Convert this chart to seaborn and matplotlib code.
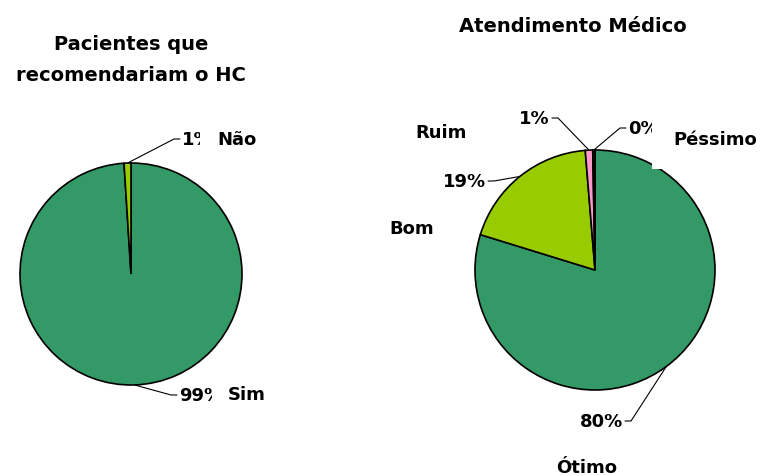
import matplotlib
matplotlib.use("Agg")
import matplotlib.pyplot as plt
import seaborn as sns
import numpy as np

# dados dos dois graficos
rec_labels = ["Sim", "Não"]
rec_values = [99, 1]
rec_colors = ["#339966", "#99CC00"]

atd_labels = ["Ótimo", "Bom", "Ruim", "Péssimo"]
atd_values = [80, 19, 1, 0.3]
atd_colors = ["#339966", "#99CC00", "#FF99CC", "#222222"]

sns.set_theme(style="white")
plt.rcParams["font.family"] = ["DejaVu Sans"]
plt.rcParams["text.color"] = "black"

W, H = 763, 477
fig = plt.figure(figsize=(W / 100, H / 100), dpi=100)
ax = fig.add_axes([0, 0, 1, 1])


def P(x, y):
    # pixel (origem em cima) -> coordenadas do eixo
    return x, H - y


def draw_pie(values, colors, center, radius, pct_pos, name_pos, names, title, title_pos):
    total = float(sum(values))
    wedges, _ = ax.pie(values, colors=colors, startangle=90, counterclock=False,
                       center=P(*center), radius=radius,
                       wedgeprops=dict(edgecolor="black", linewidth=1.2))
    cx, cy = P(*center)
    for w, v, (tx, ty, ha), (nx, ny, pad), name in zip(wedges, values, pct_pos, name_pos, names):
        mid = np.deg2rad((w.theta1 + w.theta2) / 2)
        wx, wy = cx + radius * np.cos(mid), cy + radius * np.sin(mid)
        sgn = 1 if ha == "right" else -1
        X, Y = P(tx, ty)
        ax.plot([wx, X + sgn * 8, X + sgn * 2], [wy, Y, Y], color="black", lw=0.8, zorder=3)
        ax.text(X, Y, "%d%%" % round(100 * v / total), ha=ha, va="center",
                fontsize=13, fontweight="bold", zorder=4)
        ax.text(*P(nx, ny), name, ha="left", va="center", fontsize=13, fontweight="bold",
                zorder=5, bbox=dict(boxstyle="square,pad=%.2f" % pad, fc="white", ec="none"))
    ax.text(*P(*title_pos), title, ha="center", va="center", fontsize=14,
            fontweight="bold", linespacing=1.75)


draw_pie(rec_values, rec_colors, (131, 275), 111,
         [(179, 396, "left"), (182, 140, "left")],
         [(228, 395, 0.9), (217, 140, 0.95)], rec_labels,
         "Pacientes que\nrecomendariam o HC", (131, 60))

draw_pie(atd_values, atd_colors, (595, 271), 120,
         [(623, 422, "right"), (486, 182, "right"), (550, 119, "right"), (628, 129, "left")],
         [(556, 468, 0.5), (389, 229, 0.5), (415, 133, 0.5), (673, 140, 1.15)], atd_labels,
         "Atendimento Médico", (573, 27))

ax.set_xlim(0, W)
ax.set_ylim(0, H)
ax.axis("off")
fig.savefig("out.png", dpi=100)
